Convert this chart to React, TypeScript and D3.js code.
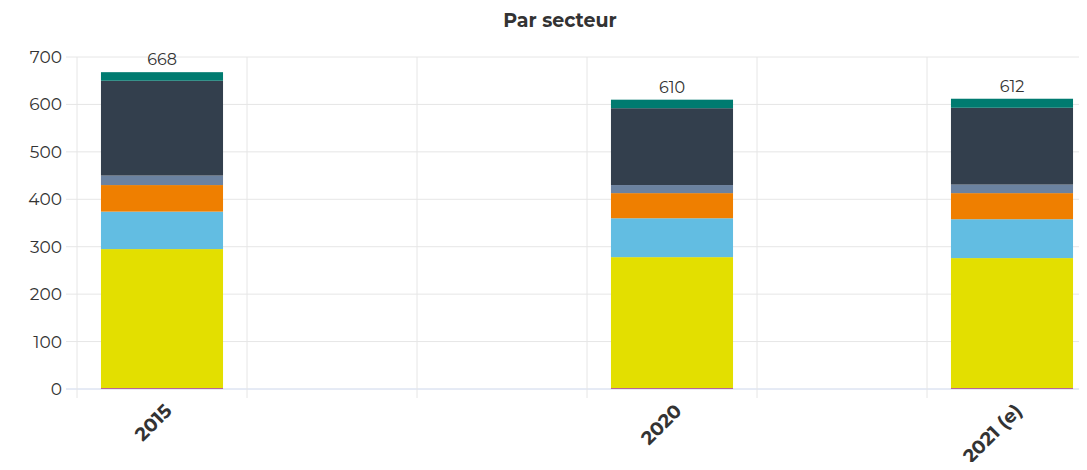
import React from 'react';
import * as d3 from 'd3';

// x slots of the chart (empty slots have no label)
const slots = ['2015', 's1', 's2', '2020', 's3', '2021 (e)'];
const slotLabels = ['2015', '', '', '2020', '', '2021 (e)'];
const categories = ['2015', '2020', '2021 (e)'];

// stacked series, bottom to top
const seriesNames = ['s0', 's1', 's2', 's3', 's4', 's5', 's6'];
const pinkValues = [2, 2, 2];
const yellowValues = [293, 276, 274];
const lightBlueValues = [79, 82, 82];
const orangeValues = [56, 53, 55];
const slateValues = [20, 17, 18];
const navyValues = [200, 162, 162];
const tealValues = [18, 18, 19];
const totals = [668, 610, 612];
const yTicks = [0, 100, 200, 300, 400, 500, 600, 700];

const colors = ['#b4589c', '#e3df00', '#62bde2', '#ef7f00', '#6b82a0', '#333f4d', '#007b70'];

const W = 1087;
const H = 470;
const margin = { top: 57, left: 77, bottom: 389 };
const plotRight = 1097;
const font = "Montserrat, 'Open Sans', sans-serif";

const App = () => {
  const rows = categories.map((c, i) => ({
    cat: c,
    s0: pinkValues[i],
    s1: yellowValues[i],
    s2: lightBlueValues[i],
    s3: orangeValues[i],
    s4: slateValues[i],
    s5: navyValues[i],
    s6: tealValues[i],
  }));
  const stacked = d3.stack<any>().keys(seriesNames)(rows);

  const x = d3.scaleBand().domain(slots).range([margin.left, plotRight]).padding(0);
  const y = d3.scaleLinear().domain([0, 700]).range([margin.bottom, margin.top]);
  const barW = x.bandwidth() * 0.718;

  return (
    <div style={{ margin: -8, width: W, height: H, overflow: 'hidden', background: '#fff' }}>
      <svg width={W} height={H} style={{ display: 'block' }} fontFamily={font}>
        <text x={560} y={27} textAnchor="middle" fontSize={19} fontWeight="bold" fill="#333">
          Par secteur
        </text>

        {/* horizontal grid */}
        {yTicks.map(t => (
          <g key={t}>
            <line x1={66} x2={W} y1={y(t)} y2={y(t)} stroke={t === 0 ? '#ccd6eb' : '#e6e6e6'} strokeWidth={1} />
            <text x={62} y={y(t)} dy="0.35em" textAnchor="end" fontSize={17} fill="#333">
              {t}
            </text>
          </g>
        ))}

        {/* vertical grid / ticks */}
        {slots.map(s => (
          <line key={s} x1={x(s)!} x2={x(s)!} y1={margin.top} y2={margin.bottom + 9} stroke="#e6e6e6" strokeWidth={1} />
        ))}

        {/* stacked bars */}
        {stacked.map((layer, li) => (
          <g key={layer.key} fill={colors[li]}>
            {layer.map((d, i) => {
              const cx = x(categories[i])! + x.bandwidth() / 2;
              return (
                <rect
                  key={i}
                  x={cx - barW / 2}
                  y={y(d[1])}
                  width={barW}
                  height={Math.max(0, y(d[0]) - y(d[1]))}
                />
              );
            })}
          </g>
        ))}

        {/* totals */}
        {categories.map((c, i) => (
          <text key={c} x={x(c)! + x.bandwidth() / 2} y={y(totals[i]) - 7} textAnchor="middle" fontSize={16} fill="#333">
            {totals[i]}
          </text>
        ))}

        {/* x labels */}
        {slots.map((s, i) =>
          slotLabels[i] ? (
            <text
              key={s}
              transform={`translate(${x(s)! + x.bandwidth() / 2 + 11},${412}) rotate(-45)`}
              textAnchor="end"
              fontSize={19}
              fontWeight="bold"
              fill="#333"
            >
              {slotLabels[i]}
            </text>
          ) : null
        )}
      </svg>
    </div>
  );
};

export default App;
